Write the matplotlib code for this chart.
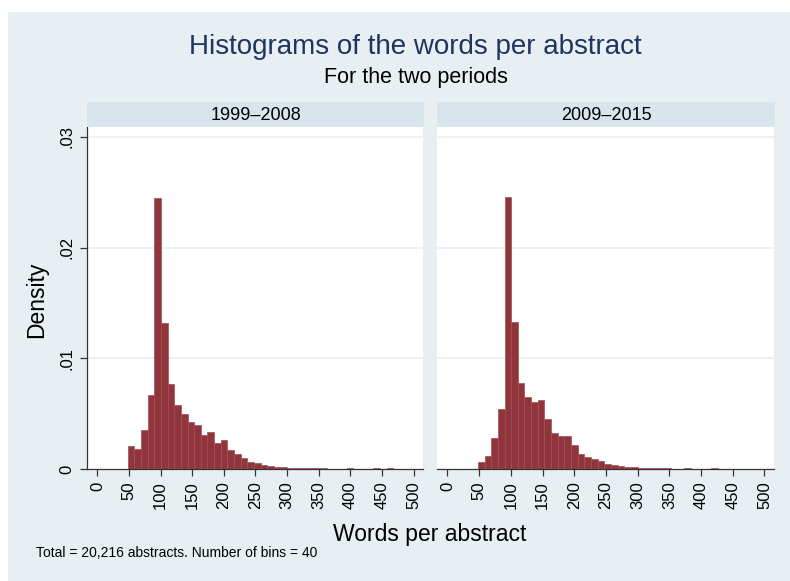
import numpy as np
import matplotlib
matplotlib.use('Agg')
import matplotlib.pyplot as plt
from matplotlib.patches import Rectangle

matplotlib.rcParams.update({
    'font.family': ['Liberation Sans', 'DejaVu Sans'],
    'font.size': 12,
})

# histogram bins shared by both periods
words_min = 48.0
words_max = 468.0
n_bins = 40

periods = ['1999\u20132008', '2009\u20132015']

density_1999_2008 = [
    0.00208, 0.00184, 0.00349, 0.00666, 0.02449, 0.01316, 0.00768, 0.00575, 0.00494, 0.00428,
    0.00398, 0.00307, 0.00334, 0.00235, 0.00259, 0.00169, 0.00133, 0.00096, 0.00066, 0.00051,
    0.00036, 0.00030, 0.00021, 0.00015, 0.00012, 0.00010, 0.00009, 0.00008, 0.00006, 0.00006,
    0.00004, 0.00003, 0.00000, 0.00010, 0.00000, 0.00000, 0.00000, 0.00009, 0.00000, 0.00009,
]
density_2009_2015 = [
    0.00060, 0.00114, 0.00277, 0.00542, 0.02458, 0.01331, 0.00774, 0.00654, 0.00605, 0.00623,
    0.00449, 0.00325, 0.00301, 0.00298, 0.00217, 0.00133, 0.00108, 0.00087, 0.00069, 0.00042,
    0.00036, 0.00024, 0.00018, 0.00015, 0.00012, 0.00009, 0.00008, 0.00006, 0.00005, 0.00004,
    0.00003, 0.00009, 0.00000, 0.00000, 0.00000, 0.00009, 0.00000, 0.00000, 0.00000, 0.00000,
]

x_ticks = list(range(0, 501, 50))
y_ticks = [0, 0.01, 0.02, 0.03]
y_tick_labels = ['0', '.01', '.02', '.03']

BG = '#e8eff2'
STRIP = '#d9e5ec'
BAR = '#8f353b'
BAR_EDGE = '#a34d54'
NAVY = '#1e3562'
AXIS = '#333333'

W, H = 790, 581
fig = plt.figure(figsize=(W / 100, H / 100), dpi=100)
fig.patch.set_facecolor('white')
fig.add_artist(Rectangle((8 / W, 0), 1 - 8 / W, 1 - 12 / H, transform=fig.transFigure,
                         facecolor=BG, edgecolor='none', zorder=-10))


def px_box(x0, y0, x1, y1):
    # pixel box (top-left origin) -> figure fraction rect
    return [x0 / W, 1 - y1 / H, (x1 - x0) / W, (y1 - y0) / H]


edges = np.linspace(words_min, words_max, n_bins + 1)
panels = [(87, 423), (437, 774)]
series = [density_1999_2008, density_2009_2015]

for i, ((x0, x1), dens, label) in enumerate(zip(panels, series, periods)):
    ax = fig.add_axes(px_box(x0, 127, x1, 469))
    ax.set_facecolor('white')
    ax.bar(edges[:-1], dens, width=np.diff(edges), align='edge',
           color=BAR, edgecolor=BAR_EDGE, linewidth=0.5, zorder=3)
    ax.set_xlim(-16.5, 515)
    ax.set_ylim(0, 0.0309)
    for yv in y_ticks[1:]:
        ax.axhline(yv, color=BG, linewidth=1.2, zorder=1)
    for s in ['top', 'right']:
        ax.spines[s].set_visible(False)
    ax.spines['bottom'].set_color(AXIS)
    ax.spines['bottom'].set_linewidth(0.9)
    ax.set_xticks(x_ticks)
    ax.set_xticklabels([str(v) for v in x_ticks], rotation=90, fontsize=12)
    ax.tick_params(axis='x', length=5, width=0.9, color=AXIS, pad=4)
    if i == 0:
        ax.spines['left'].set_color(AXIS)
        ax.spines['left'].set_linewidth(0.9)
        ax.set_yticks(y_ticks)
        ax.set_yticklabels(y_tick_labels, rotation=90, va='center', fontsize=12)
        ax.tick_params(axis='y', length=5, width=0.9, color=AXIS, pad=4)
    else:
        ax.spines['left'].set_visible(False)
        ax.set_yticks([])

    sax = fig.add_axes(px_box(x0, 102, x1 + 1, 127))
    sax.set_facecolor(STRIP)
    sax.set_xticks([])
    sax.set_yticks([])
    for s in sax.spines.values():
        s.set_visible(False)
    sax.text(0.5, 0.45, label, ha='center', va='center', fontsize=13,
             transform=sax.transAxes)

fig.text(415 / W, 1 - 47 / H, 'Histograms of the words per abstract', ha='center',
         va='center', fontsize=20, color=NAVY)
fig.text(416 / W, 1 - 77 / H, 'For the two periods', ha='center', va='center',
         fontsize=15.5)
fig.text(37 / W, 1 - 300 / H, 'Density', rotation=90, ha='center', va='center',
         fontsize=16.5)
fig.text(430 / W, 1 - 534 / H, 'Words per abstract', ha='center', va='center',
         fontsize=16.5)
fig.text(36 / W, 1 - 553 / H, 'Total = 20,216 abstracts. Number of bins = 40',
         ha='left', va='center', fontsize=10)

plt.savefig('out.png', dpi=100)
